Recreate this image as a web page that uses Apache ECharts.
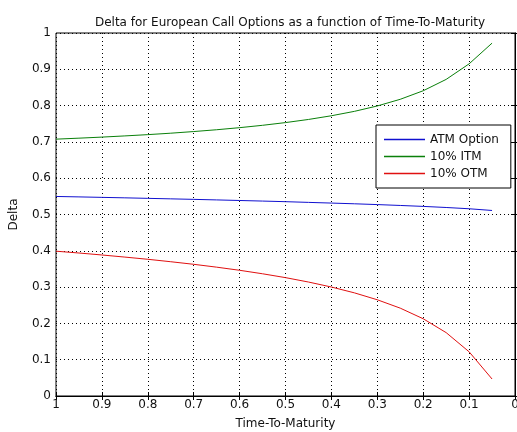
<!DOCTYPE html>
<html><head><meta charset="utf-8">
<script src="https://cdn.jsdelivr.net/npm/echarts@6/dist/echarts.min.js"></script>
<style>html,body{margin:0;padding:0;background:#fff}#c{width:517px;height:432px}</style>
</head><body><div id="c"></div>
<script>
var timeToMaturity = [1, 0.95, 0.9, 0.85, 0.8, 0.75, 0.7, 0.65, 0.6, 0.55, 0.5, 0.45, 0.4, 0.35, 0.3, 0.25, 0.2, 0.15, 0.1, 0.05];
var atmDelta = [0.5497, 0.5485, 0.5472, 0.5459, 0.5445, 0.5431, 0.5417, 0.5402, 0.5386, 0.5370, 0.5353, 0.5334, 0.5315, 0.5295, 0.5273, 0.5249, 0.5223, 0.5193, 0.5158, 0.5111];
var itmDelta = [0.7076, 0.7103, 0.7132, 0.7165, 0.7200, 0.7240, 0.7285, 0.7335, 0.7392, 0.7457, 0.7532, 0.7618, 0.7720, 0.7841, 0.7990, 0.8174, 0.8409, 0.8722, 0.9150, 0.9721];
var otmDelta = [0.3989, 0.3939, 0.3885, 0.3827, 0.3766, 0.3699, 0.3628, 0.3549, 0.3463, 0.3367, 0.3261, 0.3140, 0.3002, 0.2842, 0.2651, 0.2420, 0.2128, 0.1746, 0.1218, 0.0468];
var seriesNames = ['ATM Option', '10% ITM', '10% OTM'];
var xTickLabels = ['0', '0.1', '0.2', '0.3', '0.4', '0.5', '0.6', '0.7', '0.8', '0.9', '1'];
var yTickLabels = ['0', '0.1', '0.2', '0.3', '0.4', '0.5', '0.6', '0.7', '0.8', '0.9', '1'];

function pairs(xs, ys) { return xs.map(function (x, i) { return [x, ys[i]]; }); }
function fmt(list) { return function (v) { return list[Math.round(v * 10)]; }; }

var font = 'DejaVu Sans, Liberation Sans, sans-serif';
var chart = echarts.init(document.getElementById('c'), null, {renderer: 'canvas'});
var gridLine = {show: true, lineStyle: {color: '#000', type: [1, 3], width: 1}};
var tick = {show: true, inside: true, length: 4, lineStyle: {color: '#000'}};
chart.setOption({
  backgroundColor: '#fff',
  animation: false,
  title: {
    text: 'Delta for European Call Options as a function of Time-To-Maturity',
    left: 285, textAlign: 'center', top: 12,
    textStyle: {fontFamily: font, fontSize: 12, fontWeight: 'normal', color: '#111'}
  },
  legend: {
    data: seriesNames, orient: 'vertical', left: 376, top: 125,
    backgroundColor: '#fff', borderColor: '#000', borderWidth: 1,
    padding: [7, 12, 7, 8], itemGap: 2, itemWidth: 41, itemHeight: 1.5, icon: 'rect',
    textStyle: {fontFamily: font, fontSize: 12, color: '#111', lineHeight: 15}
  },
  grid: {left: 56, right: 2, top: 33, bottom: 36, show: true, borderColor: '#000', borderWidth: 1, outerBoundsMode: 'none', containLabel: false},
  xAxis: [{
    type: 'value', inverse: true, min: 0, max: 1, interval: 0.1,
    name: 'Time-To-Maturity', nameLocation: 'middle', nameGap: 22,
    nameTextStyle: {fontFamily: font, fontSize: 12, color: '#111'},
    axisLine: {show: true, lineStyle: {color: '#000'}},
    axisTick: tick,
    axisLabel: {fontFamily: font, fontSize: 12, color: '#111', margin: 3, formatter: fmt(xTickLabels)},
    splitLine: gridLine
  }, {
    type: 'value', inverse: true, min: 0, max: 1, interval: 0.1, position: 'top',
    axisLine: {show: true, lineStyle: {color: '#000'}},
    axisTick: tick, axisLabel: {show: false}, splitLine: {show: false}
  }],
  yAxis: [{
    type: 'value', min: 0, max: 1, interval: 0.1,
    name: 'Delta', nameLocation: 'middle', nameGap: 36, nameRotate: 90,
    nameTextStyle: {fontFamily: font, fontSize: 12, color: '#111'},
    axisLine: {show: true, lineStyle: {color: '#000'}},
    axisTick: tick,
    axisLabel: {fontFamily: font, fontSize: 12, color: '#111', margin: 5, formatter: fmt(yTickLabels)},
    splitLine: gridLine
  }, {
    type: 'value', min: 0, max: 1, interval: 0.1, position: 'right',
    axisLine: {show: true, lineStyle: {color: '#000'}},
    axisTick: tick, axisLabel: {show: false}, splitLine: {show: false}
  }],
  series: [
    {name: seriesNames[0], type: 'line', data: pairs(timeToMaturity, atmDelta), showSymbol: false, color: '#1010d0', lineStyle: {width: 1}},
    {name: seriesNames[1], type: 'line', data: pairs(timeToMaturity, itmDelta), showSymbol: false, color: '#0a800a', lineStyle: {width: 1}},
    {name: seriesNames[2], type: 'line', data: pairs(timeToMaturity, otmDelta), showSymbol: false, color: '#e01010', lineStyle: {width: 1}}
  ]
});
</script></body></html>
